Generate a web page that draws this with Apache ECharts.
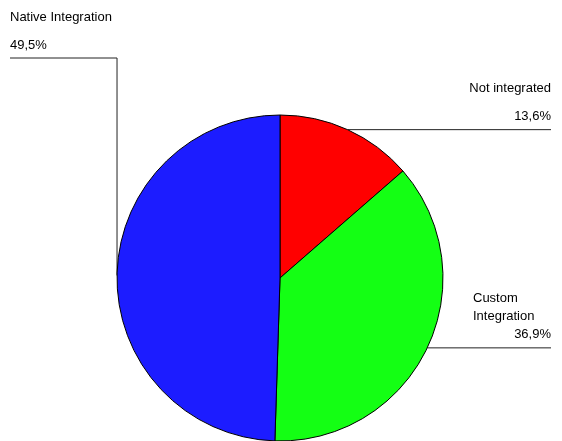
<!DOCTYPE html>
<html>
<head>
<meta charset="utf-8">
<script src="https://cdn.jsdelivr.net/npm/echarts@6/dist/echarts.min.js"></script>
<style>html,body{margin:0;padding:0;background:#fff}#c{width:562px;height:441px}</style>
</head>
<body>
<div id="c"></div>
<script>
const categories = ['Not integrated', 'Custom Integration', 'Native Integration'];
const labelNames = ['Not integrated', 'Custom\nIntegration', 'Native Integration'];
const shares = [13.6, 36.9, 49.5];
const shareLabels = ['13,6%', '36,9%', '49,5%'];
const colors = ['#ff0000', '#14ff14', '#1c1cff'];

const chart = echarts.init(document.getElementById('c'), null, {renderer: 'canvas'});
const FONT = '"Liberation Sans", Arial, sans-serif';

const data = categories.map((c, i) => {
  const twoLine = labelNames[i].indexOf('\n') >= 0;
  return {
    name: c,
    value: shares[i],
    itemStyle: {color: colors[i]},
    label: {
      formatter: twoLine
        ? '{n|' + labelNames[i].split('\n').join('}\n{n|') + '}\n{p|' + shareLabels[i] + '}'
        : '{n|' + labelNames[i] + '}\n{s|}\n{p|' + shareLabels[i] + '}',
      width: twoLine ? 78 : undefined,
      overflow: 'none',
      rich: {
        n: {fontSize: 13, lineHeight: 18, fontFamily: FONT, color: '#000', align: (i === 2 || twoLine) ? 'left' : 'right'},
        s: {fontSize: 13, lineHeight: 10, fontFamily: FONT},
        p: {fontSize: 13, lineHeight: 18, fontFamily: FONT, color: '#000', align: i === 2 ? 'left' : 'right'}
      }
    }
  };
});

chart.setOption({
  animation: false,
  series: [{
    type: 'pie',
    center: [280, 278],
    radius: 163,
    startAngle: 90,
    clockwise: true,
    data: data,
    itemStyle: {borderColor: '#000', borderWidth: 1},
    emphasis: {disabled: true},
    label: {show: true, position: 'outside', overflow: 'none', fontFamily: FONT, fontSize: 13, color: '#000'},
    labelLine: {show: true, length: 10, length2: 10, lineStyle: {color: '#222', width: 1}},
    labelLayout: function (params) {
      const i = params.dataIndex;
      const e = params.labelLinePoints[0];
      if (i === 0) {
        const y = e[1];
        return {x: 551, y: y - 4, align: 'right', verticalAlign: 'bottom',
          labelLinePoints: [e, [551, y], [551, y]]};
      } else if (i === 1) {
        const y = e[1];
        return {x: 551, y: y - 4, align: 'right', verticalAlign: 'bottom',
          labelLinePoints: [e, [551, y], [551, y]]};
      } else {
        const y = 58;
        return {x: 10, y: y - 4, align: 'left', verticalAlign: 'bottom',
          labelLinePoints: [e, [e[0], y], [10, y]]};
      }
    }
  }]
});
</script>
</body>
</html>
